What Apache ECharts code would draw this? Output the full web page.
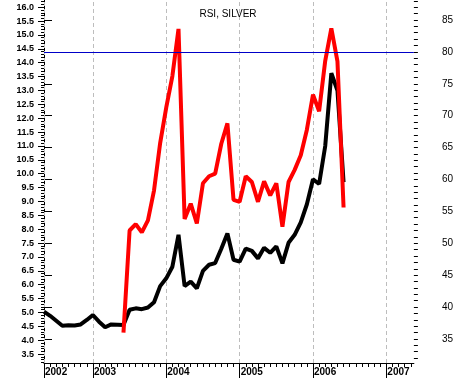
<!DOCTYPE html>
<html>
<head>
<meta charset="utf-8">
<title>RSI, SILVER</title>
<script src="https://cdn.jsdelivr.net/npm/echarts@6.0.0/dist/echarts.min.js"></script>
<style>
  html, body { margin: 0; padding: 0; background: #fff; }
  #chart { width: 456px; height: 378px; }
</style>
</head>
<body>
<div id="chart"></div>
<script>
// monthly closes, may 2002 .. jun 2006
const months = [
  '2002-05', '2002-06', '2002-07', '2002-08', '2002-09', '2002-10', '2002-11', '2002-12',
  '2003-01', '2003-02', '2003-03', '2003-04', '2003-05', '2003-06', '2003-07', '2003-08',
  '2003-09', '2003-10', '2003-11', '2003-12', '2004-01', '2004-02', '2004-03', '2004-04',
  '2004-05', '2004-06', '2004-07', '2004-08', '2004-09', '2004-10', '2004-11', '2004-12',
  '2005-01', '2005-02', '2005-03', '2005-04', '2005-05', '2005-06', '2005-07', '2005-08',
  '2005-09', '2005-10', '2005-11', '2005-12', '2006-01', '2006-02', '2006-03', '2006-04',
  '2006-05', '2006-06'
]
const silver = [
  5.03, 4.88, 4.70, 4.52, 4.54, 4.53, 4.57, 4.73, 4.91, 4.67,
  4.47, 4.57, 4.56, 4.55, 5.10, 5.15, 5.12, 5.18, 5.37, 5.95,
  6.23, 6.65, 7.80, 5.95, 6.11, 5.87, 6.50, 6.72, 6.78, 7.30,
  7.85, 6.90, 6.83, 7.30, 7.22, 6.95, 7.33, 7.15, 7.38, 6.77,
  7.51, 7.80, 8.25, 8.90, 9.80, 9.63, 11.00, 13.62, 13.00, 9.70
]
const rsi = [
  null, null, null, null, null, null, null, null, null, null,
  null, null, null, 36.0, 52.0, 53.0, 51.7, 53.6, 58.3, 65.7,
  71.3, 76.2, 83.6, 53.8, 56.2, 53.1, 59.4, 60.5, 60.9, 65.6,
  68.8, 56.8, 56.5, 60.5, 59.6, 56.5, 59.7, 57.5, 59.4, 52.6,
  59.6, 61.5, 63.8, 67.8, 73.3, 70.7, 78.6, 83.7, 78.5, 55.6
]
const rsiLevel = 80

// x axis runs in months from may 2002
const yearTicks = [0, 8, 20, 32, 44, 56]
const yearLabels = ['2002', '2003', '2004', '2005', '2006', '2007']
const priceTicks = [3.5, 4.0, 4.5, 5.0, 5.5, 6.0, 6.5, 7.0, 7.5, 8.0, 8.5, 9.0, 9.5, 10.0,
  10.5, 11.0, 11.5, 12.0, 12.5, 13.0, 13.5, 14.0, 14.5, 15.0, 15.5, 16.0]
const rsiTicks = [35, 40, 45, 50, 55, 60, 65, 70, 75, 80, 85]

const X_MAX = 60.5
const PRICE_MIN = 3.18, PRICE_MAX = 16.26
const RSI_MIN = 31.23, RSI_MAX = 88.13

const FONT = '"Liberation Sans", Arial, sans-serif'

const monthTicks = []
for (let i = 0; i <= 60; i++) monthTicks.push(i)
const priceMinor = []
for (let v = 32; v <= 162; v++) priceMinor.push(v / 10)
const rsiMinor = []
for (let v = 32; v <= 88; v++) rsiMinor.push(v)

const chart = echarts.init(document.getElementById('chart'), null, {renderer: 'canvas'})

const xBase = {type: 'value', min: 0, max: X_MAX, position: 'bottom', splitLine: {show: false}}
const priceBase = {type: 'value', min: PRICE_MIN, max: PRICE_MAX, position: 'left', splitLine: {show: false}}
const rsiBase = {type: 'value', min: RSI_MIN, max: RSI_MAX, position: 'right', splitLine: {show: false}}

chart.setOption({
  animation: false,
  title: {
    text: 'RSI, SILVER',
    left: 'center',
    top: 4,
    textStyle: {fontFamily: FONT, fontSize: 10, fontWeight: 'normal', color: '#000'}
  },
  grid: {left: 44, right: 42, top: 0, bottom: 15},
  xAxis: [
    // month ticks + axis line
    Object.assign({}, xBase, {
      axisLine: {show: true, lineStyle: {color: '#000'}},
      axisTick: {show: true, customValues: monthTicks, length: 4, lineStyle: {color: '#000'}},
      axisLabel: {show: false}
    }),
    // year ticks and labels
    Object.assign({}, xBase, {
      axisLine: {show: false},
      axisTick: {show: true, customValues: yearTicks, length: 15, lineStyle: {color: '#000'}},
      axisLabel: {
        customValues: yearTicks,
        formatter: v => yearLabels[yearTicks.indexOf(v)],
        align: 'left', padding: [0, 0, 0, 1], margin: 4,
        fontFamily: FONT, fontSize: 10, fontWeight: 'bold', color: '#000'
      }
    }),
    // dashed year grid lines
    Object.assign({}, xBase, {
      axisLine: {show: false},
      axisTick: {show: true, inside: true, customValues: yearTicks, length: 363,
        lineStyle: {color: '#bdbdbd', type: [4, 3]}},
      axisLabel: {show: false}
    })
  ],
  yAxis: [
    Object.assign({}, priceBase, {
      axisLine: {show: true, lineStyle: {color: '#000'}},
      axisTick: {show: true, customValues: priceTicks, length: 6, lineStyle: {color: '#000'}},
      axisLabel: {
        customValues: priceTicks, formatter: v => v.toFixed(1), margin: 10,
        fontFamily: FONT, fontSize: 9, fontWeight: 'bold', color: '#000'
      }
    }),
    Object.assign({}, priceBase, {
      axisLine: {show: false},
      axisTick: {show: true, customValues: priceMinor, length: 3, lineStyle: {color: '#000'}},
      axisLabel: {show: false}
    }),
    Object.assign({}, rsiBase, {
      axisLine: {show: true, lineStyle: {color: '#000'}},
      axisTick: {show: true, customValues: rsiTicks, length: 8, lineStyle: {color: '#000'}},
      axisLabel: {
        customValues: rsiTicks, margin: 28,
        fontFamily: FONT, fontSize: 10, color: '#000'
      }
    }),
    Object.assign({}, rsiBase, {
      axisLine: {show: false},
      axisTick: {show: true, customValues: rsiMinor, length: 4, lineStyle: {color: '#000'}},
      axisLabel: {show: false}
    })
  ],
  series: [
    {
      name: 'Silver',
      type: 'line',
      xAxisIndex: 0,
      yAxisIndex: 0,
      data: silver.map((v, i) => [i, v]),
      symbol: 'none',
      lineStyle: {color: '#000', width: 4},
      itemStyle: {color: '#000'},
      z: 3
    },
    {
      name: 'RSI',
      type: 'line',
      xAxisIndex: 0,
      yAxisIndex: 2,
      data: rsi.map((v, i) => [i, v]).filter(p => p[1] != null),
      symbol: 'none',
      lineStyle: {color: '#ff0000', width: 4},
      itemStyle: {color: '#ff0000'},
      z: 4,
      markLine: {
        silent: true,
        symbol: 'none',
        label: {show: false},
        lineStyle: {color: '#0000c8', width: 1, type: 'solid'},
        data: [{yAxis: rsiLevel}]
      }
    }
  ]
})
</script>
</body>
</html>
